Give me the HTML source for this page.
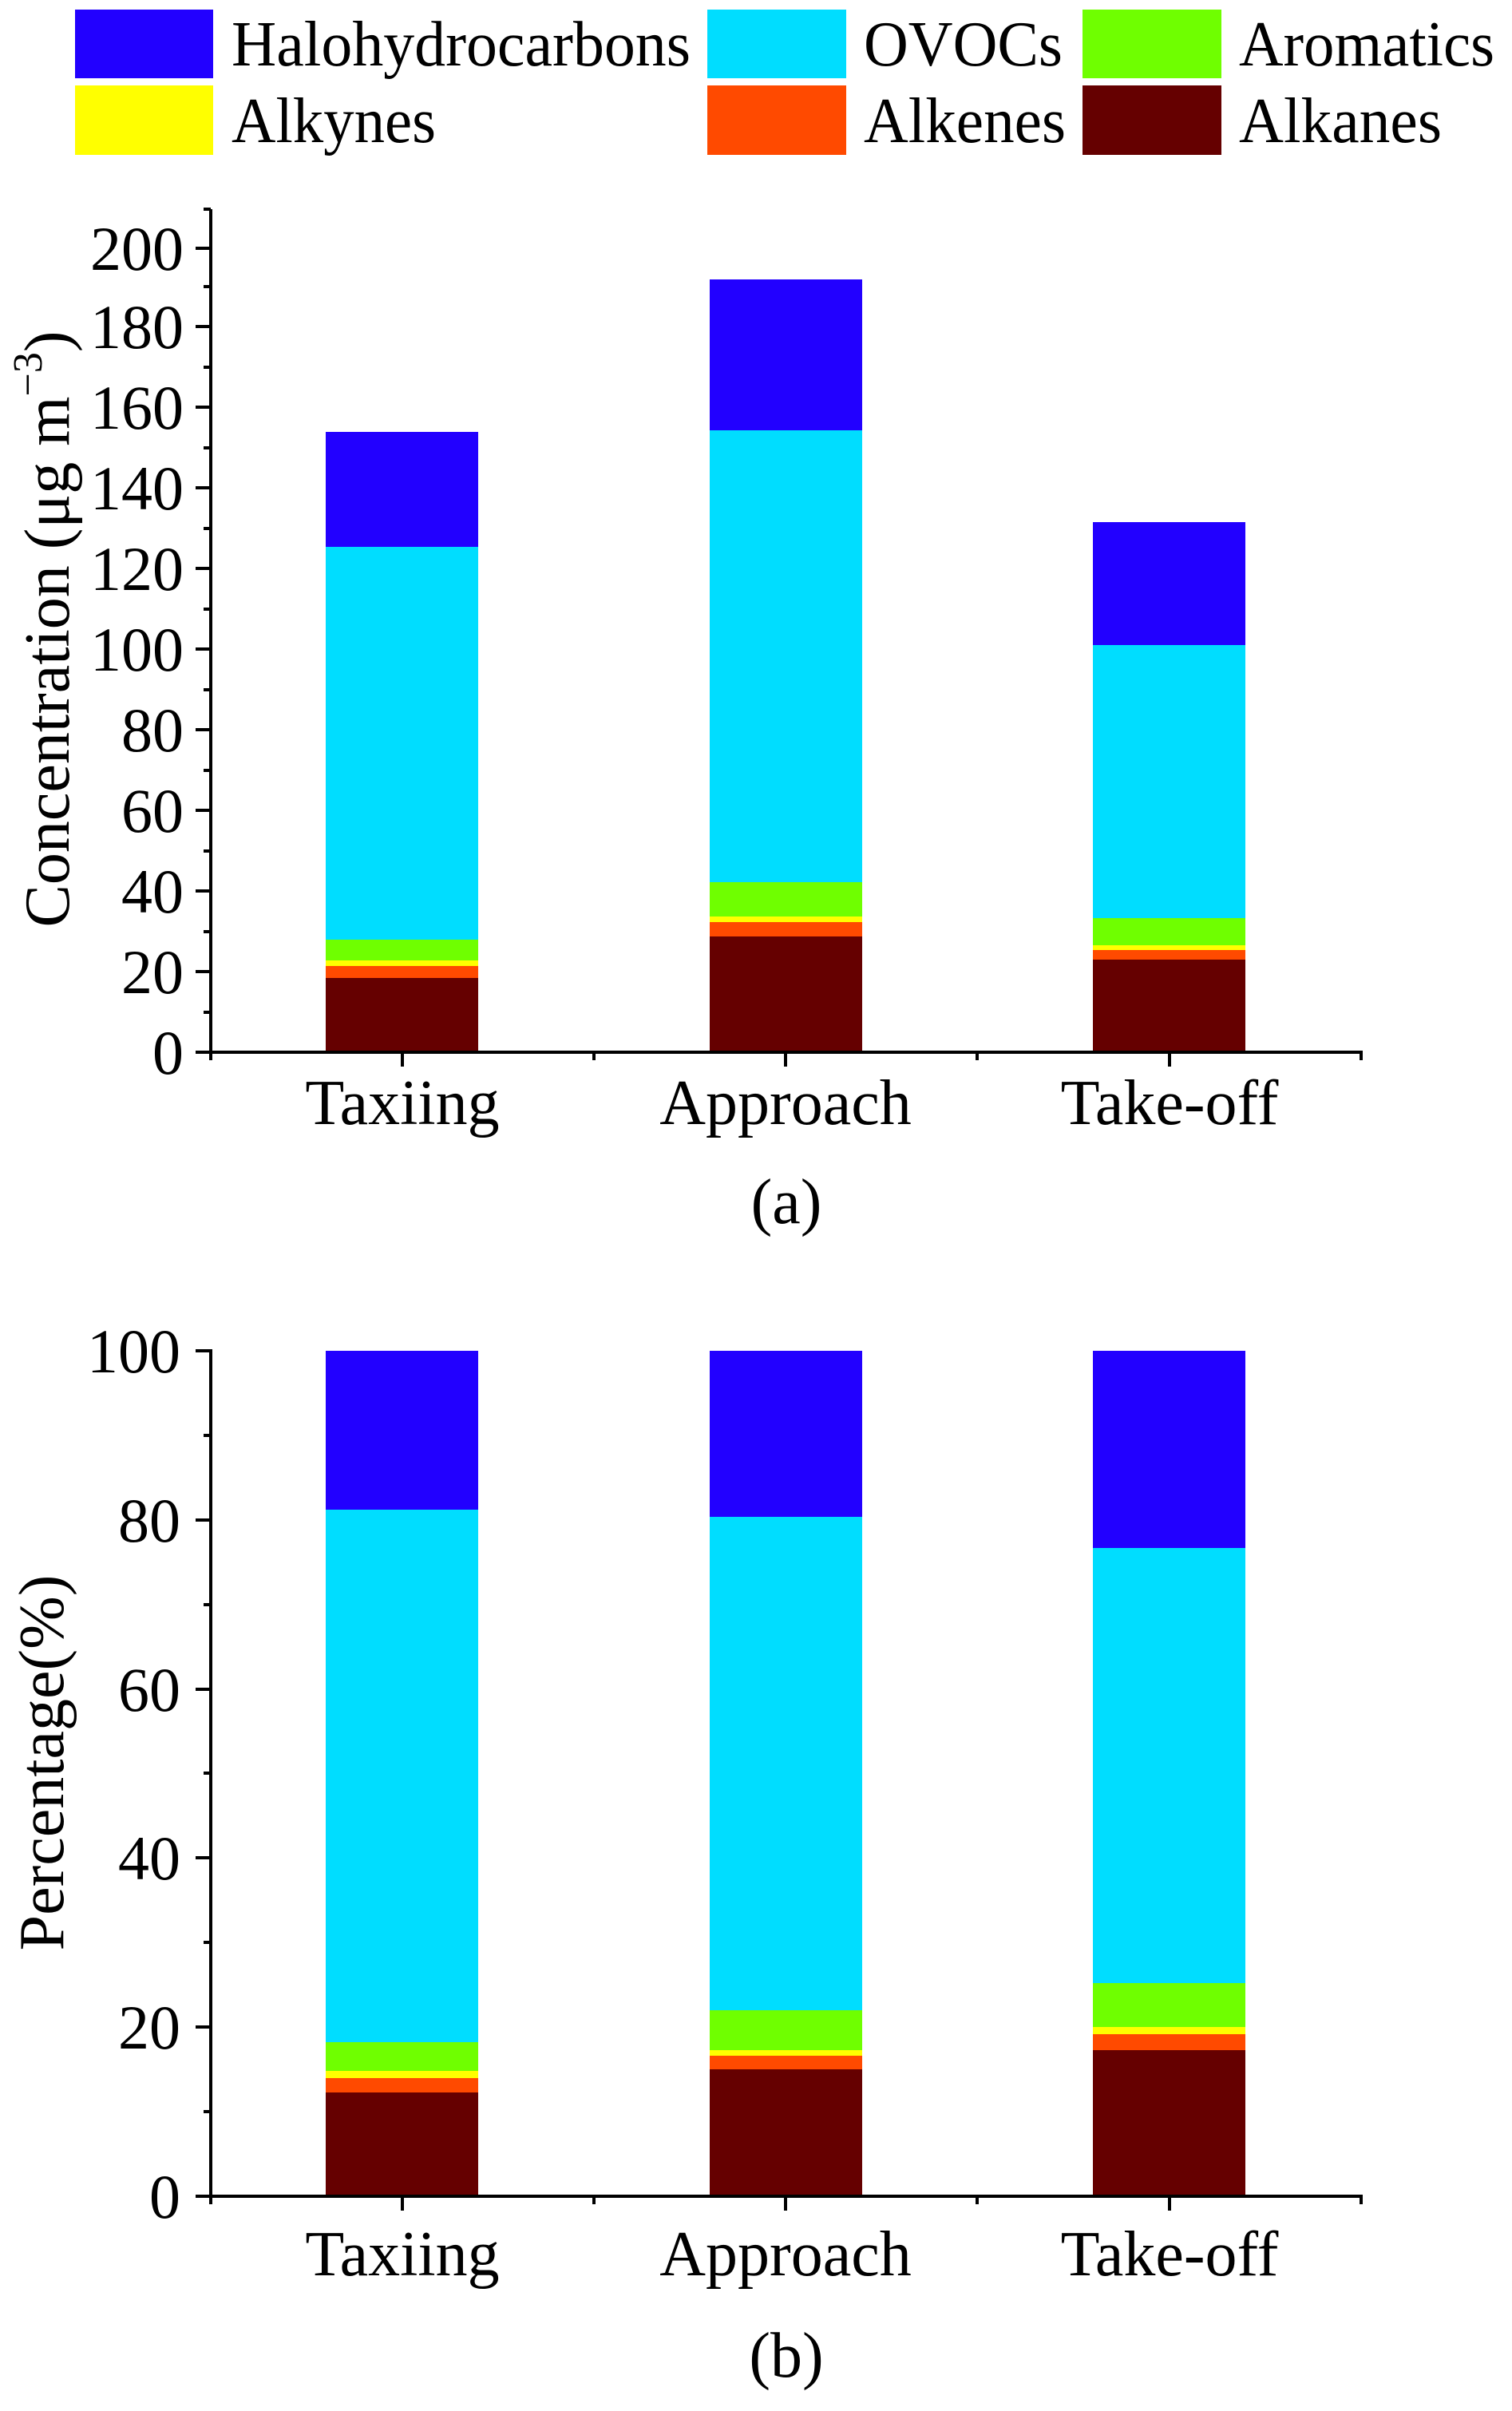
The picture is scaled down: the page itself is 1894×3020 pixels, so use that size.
<!DOCTYPE html>
<html><head><meta charset="utf-8"><style>
html,body{margin:0;padding:0;background:#fff;}
svg{display:block;}
svg text{font-family:"Liberation Serif","DejaVu Serif","Times New Roman",Times,serif !important;fill:#000;}
</style></head><body>
<svg width="1894" height="3020" viewBox="0 0 1894 3020" xmlns="http://www.w3.org/2000/svg" font-family="Liberation Serif, DejaVu Serif, serif">
<!-- Legend -->
<rect x="94" y="12" width="173" height="86" fill="#2200ff"/>
<rect x="886" y="12" width="174" height="86" fill="#00ddff"/>
<rect x="1356" y="12" width="174" height="86" fill="#6fff00"/>
<rect x="94" y="107" width="173" height="87" fill="#ffff00"/>
<rect x="886" y="107" width="174" height="87" fill="#ff4a00"/>
<rect x="1356" y="107" width="174" height="87" fill="#650000"/>
<g font-size="80">
<text x="290" y="82" textLength="575" lengthAdjust="spacingAndGlyphs">Halohydrocarbons</text>
<text x="1082" y="82" textLength="249" lengthAdjust="spacingAndGlyphs">OVOCs</text>
<text x="1552" y="82" textLength="320" lengthAdjust="spacingAndGlyphs">Aromatics</text>
<text x="290" y="178" textLength="256" lengthAdjust="spacingAndGlyphs">Alkynes</text>
<text x="1082" y="178" textLength="253" lengthAdjust="spacingAndGlyphs">Alkenes</text>
<text x="1552" y="178" textLength="254" lengthAdjust="spacingAndGlyphs">Alkanes</text>
</g>

<!-- Chart A -->
<g>
<rect x="408" y="541" width="191" height="144" fill="#2200ff"/>
<rect x="408" y="685" width="191" height="493" fill="#00ddff"/>
<rect x="408" y="1177" width="191" height="27" fill="#6fff00"/>
<rect x="408" y="1203" width="191" height="7" fill="#ffff00"/>
<rect x="408" y="1210" width="191" height="15" fill="#ff4a00"/>
<rect x="408" y="1225" width="191" height="93" fill="#650000"/>
<rect x="889" y="350" width="191" height="189" fill="#2200ff"/>
<rect x="889" y="539" width="191" height="566" fill="#00ddff"/>
<rect x="889" y="1105" width="191" height="43" fill="#6fff00"/>
<rect x="889" y="1148" width="191" height="7" fill="#ffff00"/>
<rect x="889" y="1155" width="191" height="18" fill="#ff4a00"/>
<rect x="889" y="1173" width="191" height="145" fill="#650000"/>
<rect x="1369" y="654" width="191" height="154" fill="#2200ff"/>
<rect x="1369" y="808" width="191" height="342" fill="#00ddff"/>
<rect x="1369" y="1150" width="191" height="35" fill="#6fff00"/>
<rect x="1369" y="1184" width="191" height="6" fill="#ffff00"/>
<rect x="1369" y="1190" width="191" height="12" fill="#ff4a00"/>
<rect x="1369" y="1202" width="191" height="116" fill="#650000"/>
</g>
<g stroke="#000" stroke-width="4" fill="none">
<line x1="264" y1="262" x2="264" y2="1320"/>
<line x1="245" y1="1318" x2="1707" y2="1318"/>
<path d="M245 1318H264M245 1217H264M245 1116H264M245 1015H264M245 914H264M245 813H264M245 712H264M245 611H264M245 510H264M245 409H264M245 311H264"/>
<path d="M255 1268H264M255 1167H264M255 1066H264M255 965H264M255 864H264M255 763H264M255 662H264M255 561H264M255 460H264M255 359H264M255 262H264"/>
<path d="M504 1318V1336M984 1318V1336M1465 1318V1336M264 1318V1328M744 1318V1328M1224 1318V1328M1705 1318V1328"/>
</g>
<g font-size="78" text-anchor="end">
<text x="230" y="1345">0</text><text x="230" y="1244">20</text><text x="230" y="1143">40</text>
<text x="230" y="1042">60</text><text x="230" y="941">80</text><text x="230" y="840">100</text>
<text x="230" y="739">120</text><text x="230" y="638">140</text><text x="230" y="537">160</text>
<text x="230" y="436">180</text><text x="230" y="338">200</text>
</g>
<g font-size="80" text-anchor="middle">
<text x="504" y="1408">Taxiing</text><text x="984" y="1408">Approach</text><text x="1465" y="1408">Take-off</text>
<text x="985" y="1532">(a)</text>
</g>
<text font-size="80" text-anchor="middle" transform="translate(86,788) rotate(-90)">Concentration (μg m<tspan font-size="52" dy="-34">−3</tspan><tspan dy="34">)</tspan></text>

<!-- Chart B -->
<g>
<rect x="408" y="1692" width="191" height="199" fill="#2200ff"/>
<rect x="408" y="1891" width="191" height="668" fill="#00ddff"/>
<rect x="408" y="2558" width="191" height="37" fill="#6fff00"/>
<rect x="408" y="2594" width="191" height="9" fill="#ffff00"/>
<rect x="408" y="2603" width="191" height="18" fill="#ff4a00"/>
<rect x="408" y="2621" width="191" height="130" fill="#650000"/>
<rect x="889" y="1692" width="191" height="208" fill="#2200ff"/>
<rect x="889" y="1900" width="191" height="618" fill="#00ddff"/>
<rect x="889" y="2518" width="191" height="50" fill="#6fff00"/>
<rect x="889" y="2568" width="191" height="7" fill="#ffff00"/>
<rect x="889" y="2575" width="191" height="17" fill="#ff4a00"/>
<rect x="889" y="2592" width="191" height="159" fill="#650000"/>
<rect x="1369" y="1692" width="191" height="247" fill="#2200ff"/>
<rect x="1369" y="1939" width="191" height="545" fill="#00ddff"/>
<rect x="1369" y="2484" width="191" height="55" fill="#6fff00"/>
<rect x="1369" y="2539" width="191" height="9" fill="#ffff00"/>
<rect x="1369" y="2548" width="191" height="20" fill="#ff4a00"/>
<rect x="1369" y="2568" width="191" height="183" fill="#650000"/>
</g>
<g stroke="#000" stroke-width="4" fill="none">
<line x1="264" y1="1690" x2="264" y2="2753"/>
<line x1="245" y1="2751" x2="1707" y2="2751"/>
<path d="M245 2751H264M245 2539H264M245 2327H264M245 2116H264M245 1904H264M245 1692H264"/>
<path d="M255 2645H264M255 2433H264M255 2221H264M255 2010H264M255 1798H264"/>
<path d="M504 2751V2769M984 2751V2769M1465 2751V2769M264 2751V2761M744 2751V2761M1224 2751V2761M1705 2751V2761"/>
</g>
<g font-size="78" text-anchor="end">
<text x="226" y="2778">0</text><text x="226" y="2566">20</text><text x="226" y="2354">40</text>
<text x="226" y="2143">60</text><text x="226" y="1931">80</text><text x="226" y="1719">100</text>
</g>
<g font-size="80" text-anchor="middle">
<text x="504" y="2850">Taxiing</text><text x="984" y="2850">Approach</text><text x="1465" y="2850">Take-off</text>
<text x="985" y="2977">(b)</text>
</g>
<text font-size="80" text-anchor="middle" transform="translate(79,2208) rotate(-90)">Percentage(%)</text>
</svg>
</body></html>
